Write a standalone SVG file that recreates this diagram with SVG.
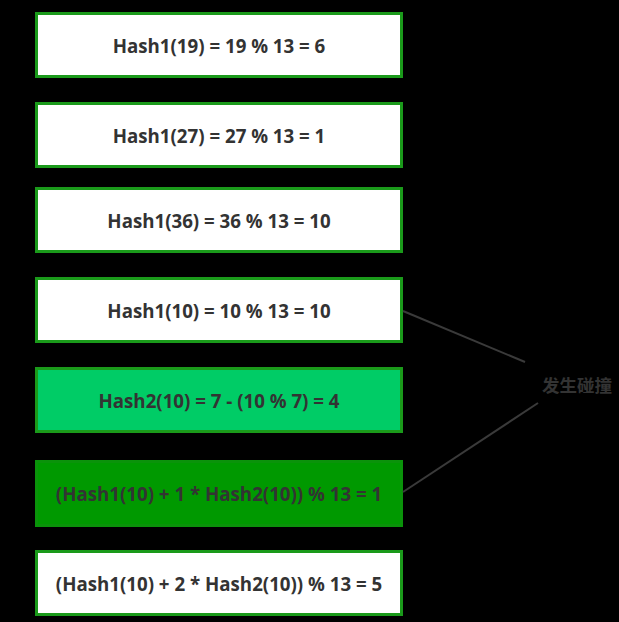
<svg xmlns="http://www.w3.org/2000/svg" width="619" height="622" viewBox="0 0 619 622">
<style>
.box{stroke:#1a9a1a;stroke-width:3;fill:#ffffff}
.t{font-family:"Open Sans","DejaVu Sans",sans-serif;font-weight:bold;font-size:18.7px;fill:#333333;text-anchor:middle;dominant-baseline:central}
.c{stroke:#3a3a3a;stroke-width:2;fill:none}
</style>
<rect x="0" y="0" width="619" height="622" fill="#000000"/>
<g id="n1"><rect class="box" x="36.5" y="13.5" width="365" height="63"/><text class="t" x="219" y="45">Hash1(19) = 19 % 13 = 6</text></g>
<g id="n2"><rect class="box" x="36.5" y="103.5" width="365" height="63"/><text class="t" x="219" y="135">Hash1(27) = 27 % 13 = 1</text></g>
<g id="n3"><rect class="box" x="36.5" y="188.5" width="365" height="63"/><text class="t" x="219" y="220">Hash1(36) = 36 % 13 = 10</text></g>
<g id="n4"><rect class="box" x="36.5" y="278.5" width="365" height="63"/><text class="t" x="219" y="310">Hash1(10) = 10 % 13 = 10</text></g>
<g id="n5"><rect class="box" x="36.5" y="368.5" width="365" height="63" style="fill:#00cc66"/><text class="t" x="219" y="400">Hash2(10) = 7 - (10 % 7) = 4</text></g>
<g id="n6"><rect class="box" x="36.5" y="461.5" width="365" height="64" style="fill:#009900;stroke:#0a930a"/><text class="t" x="219" y="493">(Hash1(10) + 1 * Hash2(10)) % 13 = 1</text></g>
<g id="n7"><rect class="box" x="36.5" y="551.5" width="365" height="63"/><text class="t" x="219" y="583">(Hash1(10) + 2 * Hash2(10)) % 13 = 5</text></g>
<g id="label"><text class="t" x="577" y="384" style="font-family:'Noto Sans CJK SC',sans-serif;font-size:17.5px">发生碰撞</text></g>
<g id="connectors">
<line class="c" x1="403" y1="311" x2="525" y2="362"/>
<line class="c" x1="403" y1="492" x2="538" y2="403"/>
</g>
</svg>
